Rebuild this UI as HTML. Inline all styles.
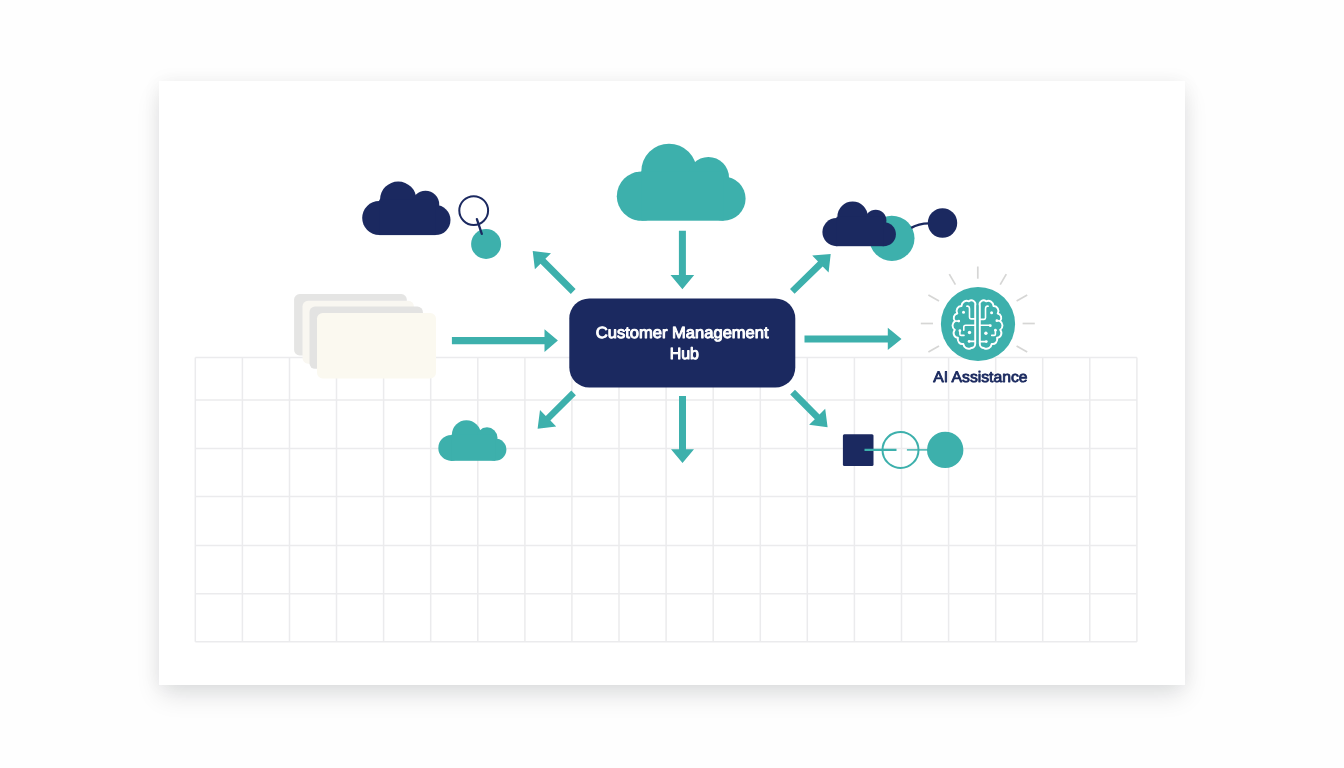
<!DOCTYPE html>
<html><head><meta charset="utf-8"><title>Customer Management Hub</title>
<style>
html,body{margin:0;padding:0;}
body{width:1344px;height:768px;overflow:hidden;background:#fefefe;position:relative;font-family:"Liberation Sans",sans-serif;}
.card{position:absolute;left:159px;top:81px;width:1026px;height:604px;background:#fff;
 box-shadow:0 12px 24px -2px rgba(10,15,25,0.12),0 0 18px rgba(10,15,25,0.05);}
svg{position:absolute;left:0;top:0;}
text{font-family:"Liberation Sans",sans-serif;text-rendering:geometricPrecision;}
svg{will-change:transform;}
</style></head>
<body>
<div class="card"></div>
<svg width="1344" height="768" viewBox="0 0 1344 768">
<g stroke="#ebebed" stroke-width="1.5" fill="none">
<line x1="195.3" y1="357.5" x2="195.3" y2="641.8"/>
<line x1="242.4" y1="357.5" x2="242.4" y2="641.8"/>
<line x1="289.5" y1="357.5" x2="289.5" y2="641.8"/>
<line x1="336.5" y1="357.5" x2="336.5" y2="641.8"/>
<line x1="383.6" y1="357.5" x2="383.6" y2="641.8"/>
<line x1="430.7" y1="357.5" x2="430.7" y2="641.8"/>
<line x1="477.8" y1="357.5" x2="477.8" y2="641.8"/>
<line x1="524.9" y1="357.5" x2="524.9" y2="641.8"/>
<line x1="571.9" y1="357.5" x2="571.9" y2="641.8"/>
<line x1="619.0" y1="357.5" x2="619.0" y2="641.8"/>
<line x1="666.1" y1="357.5" x2="666.1" y2="641.8"/>
<line x1="713.2" y1="357.5" x2="713.2" y2="641.8"/>
<line x1="760.3" y1="357.5" x2="760.3" y2="641.8"/>
<line x1="807.3" y1="357.5" x2="807.3" y2="641.8"/>
<line x1="854.4" y1="357.5" x2="854.4" y2="641.8"/>
<line x1="901.5" y1="357.5" x2="901.5" y2="641.8"/>
<line x1="948.6" y1="357.5" x2="948.6" y2="641.8"/>
<line x1="995.7" y1="357.5" x2="995.7" y2="641.8"/>
<line x1="1042.7" y1="357.5" x2="1042.7" y2="641.8"/>
<line x1="1089.8" y1="357.5" x2="1089.8" y2="641.8"/>
<line x1="1136.9" y1="357.5" x2="1136.9" y2="641.8"/>
<line x1="195.3" y1="357.5" x2="1136.9" y2="357.5"/>
<line x1="195.3" y1="400.0" x2="1136.9" y2="400.0"/>
<line x1="195.3" y1="448.5" x2="1136.9" y2="448.5"/>
<line x1="195.3" y1="496.6" x2="1136.9" y2="496.6"/>
<line x1="195.3" y1="545.4" x2="1136.9" y2="545.4"/>
<line x1="195.3" y1="593.8" x2="1136.9" y2="593.8"/>
<line x1="195.3" y1="641.8" x2="1136.9" y2="641.8"/>
</g>
<g>
<rect x="294.1" y="294.1" width="112.7" height="61.3" rx="5.5" fill="#e5e5e4"/>
<rect x="302.5" y="300.8" width="111.4" height="62.9" rx="5.5" fill="#f9f7f1"/>
<rect x="309.5" y="306.6" width="113.4" height="62.2" rx="5.5" fill="#e3e3e2"/>
<rect x="317.0" y="313.0" width="119.0" height="65.4" rx="5.6" fill="#fbf9f0"/>
</g>
<g fill="#1b2960">
<circle cx="379.2" cy="218.0" r="17.0"/>
<circle cx="398.2" cy="199.7" r="18.2"/>
<circle cx="425.5" cy="204.5" r="13.7"/>
<circle cx="435.5" cy="220.1" r="15.0"/>
<rect x="379.2" y="199.7" width="56.3" height="35.4"/>
</g>
<g fill="#3db0ac">
<circle cx="641.4" cy="196.2" r="24.6"/>
<circle cx="669.0" cy="171.4" r="27.7"/>
<circle cx="708.4" cy="177.6" r="20.6"/>
<circle cx="723.5" cy="198.6" r="22.1"/>
<rect x="641.4" y="171.4" width="82.1" height="49.3"/>
</g>
<circle cx="891.9" cy="238.3" r="22.6" fill="#3db0ac"/>
<g fill="#1b2960">
<circle cx="836.5" cy="232.1" r="14.1"/>
<circle cx="852.6" cy="216.8" r="15.2"/>
<circle cx="875.7" cy="220.4" r="10.7"/>
<circle cx="883.9" cy="234.2" r="12.0"/>
<rect x="836.5" y="216.8" width="47.4" height="29.4"/>
</g>
<path d="M911.2,227.9 Q918.5,223.6 929,223.4" stroke="#1b2960" stroke-width="2.4" fill="none"/>
<circle cx="942.5" cy="223.0" r="14.7" fill="#1b2960"/>
<g fill="#3db0ac">
<circle cx="451.3" cy="447.9" r="13.0"/>
<circle cx="466.4" cy="434.7" r="14.5"/>
<circle cx="487.0" cy="437.8" r="10.5"/>
<circle cx="495.2" cy="449.6" r="11.2"/>
<rect x="451.3" y="434.7" width="43.9" height="26.1"/>
</g>
<circle cx="486.1" cy="244.0" r="15.0" fill="#3db0ac"/>
<circle cx="473.7" cy="210.6" r="14.4" fill="none" stroke="#1b2960" stroke-width="2"/>
<line x1="476.9" y1="219.2" x2="481.8" y2="233.8" stroke="#1b2960" stroke-width="2.3" stroke-linecap="round"/>
<polygon fill="#3db0ac" points="678.9,230.7 678.9,274.9 670.5,274.9 682.4,289.3 694.2,274.9 685.9,274.9 685.9,230.7"/>
<polygon fill="#3db0ac" points="451.9,344.3 544.5,344.3 544.5,352.0 557.9,340.6 544.5,329.2 544.5,336.9 451.9,336.9"/>
<polygon fill="#3db0ac" points="804.5,342.4 887.8,342.4 887.8,349.9 901.5,338.9 887.8,327.8 887.8,335.4 804.5,335.4"/>
<polygon fill="#3db0ac" points="679.0,396.1 679.0,449.2 671.0,449.2 682.5,463.0 694.0,449.2 686.0,449.2 686.0,396.1"/>
<polygon fill="#3db0ac" points="575.6,289.1 545.4,258.8 551.0,253.2 532.7,251.0 534.9,269.3 540.5,263.7 570.8,293.9"/>
<polygon fill="#3db0ac" points="794.6,293.7 822.7,266.4 828.6,272.5 830.7,254.0 812.2,255.6 818.0,261.6 790.0,288.9"/>
<polygon fill="#3db0ac" points="571.3,390.6 545.8,416.0 540.0,410.1 537.6,428.7 556.2,426.4 550.4,420.5 575.9,395.2"/>
<polygon fill="#3db0ac" points="790.2,394.6 814.8,419.2 809.1,424.8 827.6,427.3 825.2,408.8 819.5,414.5 795.0,389.8"/>
<rect x="569.3" y="298.5" width="226" height="89" rx="20" fill="#1b2960"/>
<text x="595.8" y="338.3" font-size="16.2" font-weight="400" fill="#fff" stroke="#fff" stroke-width="0.95" stroke-linejoin="round" textLength="172.8" lengthAdjust="spacingAndGlyphs">Customer Management</text>
<text x="669.7" y="358.9" font-size="16.2" font-weight="400" fill="#fff" stroke="#fff" stroke-width="0.95" stroke-linejoin="round" textLength="29.3" lengthAdjust="spacingAndGlyphs">Hub</text>
<rect x="842.9" y="434.3" width="30.6" height="31.7" rx="1.5" fill="#1b2960"/>
<circle cx="900.5" cy="449.9" r="18" fill="none" stroke="#3db0ac" stroke-width="2"/>
<line x1="864.5" y1="449.9" x2="896.5" y2="449.9" stroke="#3db0ac" stroke-width="2.1"/>
<line x1="906.9" y1="449.9" x2="928.1" y2="449.9" stroke="#3db0ac" stroke-width="1.4"/>
<circle cx="945.2" cy="449.9" r="18.2" fill="#3db0ac"/>
<g stroke="#d6d6d5" stroke-width="1.7">
<line x1="977.8" y1="278.7" x2="977.8" y2="266.5"/>
<line x1="1000.2" y1="284.7" x2="1006.3" y2="274.1"/>
<line x1="1016.6" y1="301.1" x2="1027.2" y2="295.0"/>
<line x1="1022.6" y1="323.5" x2="1034.8" y2="323.5"/>
<line x1="1016.6" y1="345.9" x2="1027.2" y2="352.0"/>
<line x1="955.4" y1="284.7" x2="949.3" y2="274.1"/>
<line x1="939.0" y1="301.1" x2="928.4" y2="295.0"/>
<line x1="933.0" y1="323.5" x2="920.8" y2="323.5"/>
<line x1="939.0" y1="345.9" x2="928.4" y2="352.0"/>
</g>
<circle cx="978.0" cy="324.0" r="37.1" fill="#3db0ac"/>
<g transform="translate(977.5,324.0) scale(1,1.035)" fill="none" stroke="#fff" stroke-width="1.95" stroke-linecap="round" stroke-linejoin="round">
<path d="M-2.3,-17.8 A3.9,3.9 0 0 0 -8.6,-21.9 A5.2,5.2 0 0 0 -16.0,-17.4 A4.7,4.7 0 0 0 -20.2,-10.2 A4.4,4.4 0 0 0 -22.5,-2.8 A4.9,4.9 0 0 0 -22.7,5.6 A4.7,4.7 0 0 0 -19.6,13.4 A4.7,4.7 0 0 0 -14.2,19.3 A5.2,5.2 0 0 0 -6.4,23.2 A4.2,4.2 0 0 0 -2.3,19.0 Z"/>
<path d="M2.3,-17.8 A3.9,3.9 0 0 1 8.6,-21.9 A5.2,5.2 0 0 1 16.0,-17.4 A4.7,4.7 0 0 1 20.2,-10.2 A4.4,4.4 0 0 1 22.5,-2.8 A4.9,4.9 0 0 1 22.7,5.6 A4.7,4.7 0 0 1 19.6,13.4 A4.7,4.7 0 0 1 14.2,19.3 A5.2,5.2 0 0 1 6.4,23.2 A4.2,4.2 0 0 1 2.3,19.0 Z"/>
<path stroke-width="1.6" d="M-10.7,-17.2 Q-8,-17.6 -8,-14.5 L-8,-6.5 Q-8,-5 -6.5,-5 L-2.6,-5 M-13.7,6.0 L-13.7,3 Q-13.7,1.2 -11.8,1.2 L-2.6,1.2 M-17.6,7.5 L-17.6,10.0 Q-17.6,11.0 -16.4,11.0 L-13.5,11.0 M-8.2,16.8 L-2.6,16.8 M-18.7,-2.8 L-21.8,-2.9 M10.7,-17.2 Q8,-17.6 8,-14.5 L8,-6 Q8,-4.5 6.5,-4.5 L2.6,-4.5 M2.6,1.2 L12.4,1.2 M17.9,7.0 L17.9,9.8 Q17.9,11.0 16.7,11.0 L14.2,11.0 M8.7,17.0 L2.6,17.0 M19.3,-3.2 L21.8,-3.0"/>
<g fill="#fff" stroke="none"><circle cx="-14.0" cy="-11.4" r="1.5"/><circle cx="-18.7" cy="-2.8" r="1.3"/><circle cx="-17.6" cy="6.5" r="1.4"/><circle cx="-8.0" cy="8.3" r="1.7"/><circle cx="-8.4" cy="16.8" r="1.4"/><circle cx="14.1" cy="-10.8" r="1.5"/><circle cx="19.3" cy="-3.2" r="1.3"/><circle cx="12.8" cy="1.6" r="1.4"/><circle cx="17.9" cy="6.0" r="1.4"/><circle cx="8.4" cy="8.9" r="1.7"/><circle cx="8.8" cy="17.0" r="1.4"/></g>
</g>
<text x="933.2" y="382.0" font-size="15.2" font-weight="400" fill="#1b2960" stroke="#1b2a5f" stroke-width="0.85" stroke-linejoin="round" textLength="94.4" lengthAdjust="spacingAndGlyphs">AI Assistance</text>
</svg>
</body></html>
